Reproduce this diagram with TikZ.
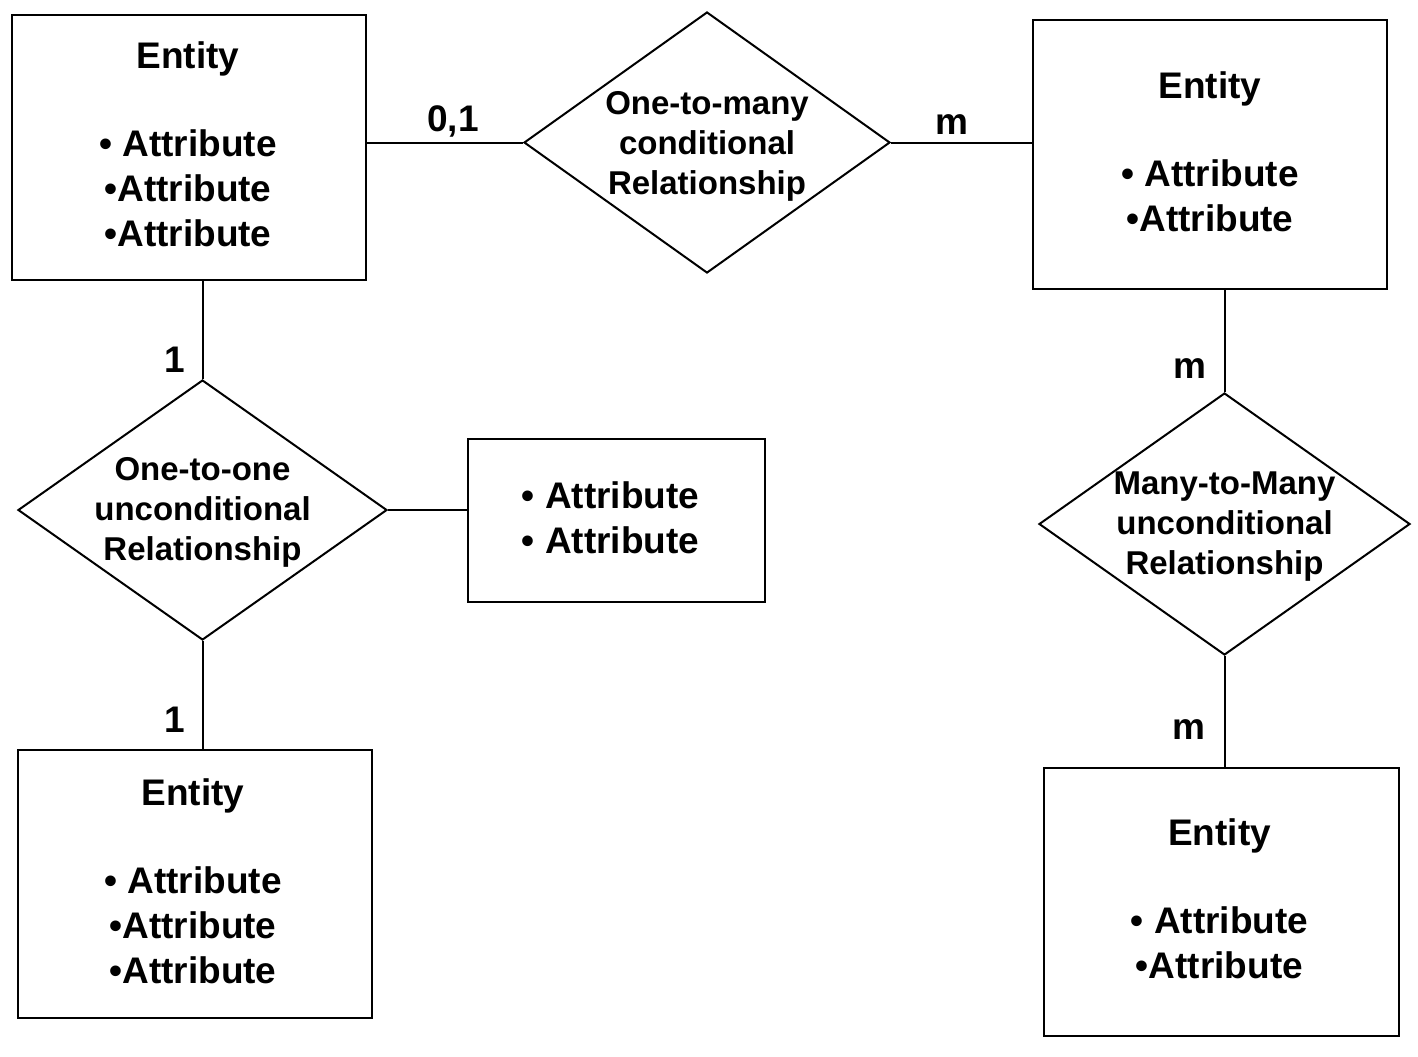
\documentclass[tikz,border=0pt]{standalone}
\usepackage{fontspec}
\setmainfont{Liberation Sans}
\usetikzlibrary{shapes.geometric}
\begin{document}
\begin{tikzpicture}[x=0.5pt,y=-0.5pt,line width=1pt,
  box/.style={draw,rectangle,inner sep=0pt},
  btext/.style={inner sep=0pt,align=center,
    font=\fontsize{18.5}{22.5}\selectfont\bfseries},
  dia/.style={draw,diamond,inner sep=0pt},
  dtext/.style={align=center,inner sep=0pt,font=\fontsize{16.5}{20}\selectfont\bfseries},
  card/.style={inner sep=0pt,font=\fontsize{18.5}{22.5}\selectfont\bfseries}]
\useasboundingbox (0,0) rectangle (1418,1056);
% entities
\node[box,minimum width=177pt,minimum height=132.5pt] (e1) at (189,147.5) {};
\node[btext] (te1) at ([xshift=-0.5pt,yshift=1.5pt]e1.center)
  {Entity\\[21.5pt]• Attribute\\•Attribute\\•Attribute};
\node[box,minimum width=177pt,minimum height=134.5pt] (e2) at (1210,154.5) {};
\node[btext] (te2) at ([yshift=1.5pt]e2.center)
  {Entity\\[21.5pt]• Attribute\\•Attribute};
\node[box,minimum width=177pt,minimum height=134pt] (e3) at (195,884) {};
\node[btext] (te3) at ([xshift=-1pt,yshift=1.5pt]e3.center)
  {Entity\\[21.5pt]• Attribute\\•Attribute\\•Attribute};
\node[box,minimum width=177.5pt,minimum height=134pt] (e4) at (1221.5,902) {};
\node[btext] (te4) at ([xshift=-1pt,yshift=1.5pt]e4.center)
  {Entity\\[21.5pt]• Attribute\\•Attribute};
\node[box,minimum width=148.5pt,minimum height=81.5pt] (ab) at (616.5,520.5) {};
\node[btext] (tab) at ([xshift=-3pt,yshift=1.5pt]ab.center)
  {• Attribute\\• Attribute};
% relationships
\node[dia,minimum width=183pt,minimum height=130.5pt] (d1) at (707,142.5) {};
\node[dtext] (t1) at ([yshift=-2pt]d1.center) {One-to-many\\conditional\\Relationship};
\node[dia,minimum width=184.5pt,minimum height=130pt] (d2) at (202.5,510) {};
\node[dtext] (t2) at ([yshift=-1pt]d2.center) {One-to-one\\unconditional\\Relationship};
\node[dia,minimum width=185.5pt,minimum height=131pt] (d3) at (1224.5,524) {};
\node[dtext] (t3) at ([yshift=-1.5pt]d3.center) {Many-to-Many\\unconditional\\Relationship};
% connectors
\draw (d1.west) -- (d1.west -| e1.east);
\draw (d1.east) -- (d1.east -| e2.west);
\draw (d2.north) -- (d2.north |- e1.south);
\draw (d2.south) -- (d2.south |- e3.north);
\draw (d2.east) -- (d2.east -| ab.west);
\draw (d3.north) -- (d3.north |- e2.south);
\draw (d3.south) -- (d3.south |- e4.north);
% cardinalities
\node[card] (c1) at (453,121) {0,1};
\node[card] (c2) at (952,125) {m};
\node[card] (c3) at (175,360) {1};
\node[card] (c4) at (1190,369) {m};
\node[card] (c5) at (175,720) {1};
\node[card] (c6) at (1189,730) {m};
\end{tikzpicture}
\end{document}
